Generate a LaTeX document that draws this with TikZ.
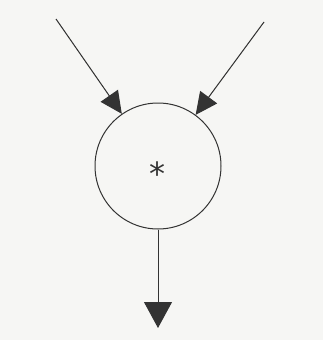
\documentclass[tikz,border=0pt]{standalone}
\usepackage{fontspec}
\setmainfont{DejaVu Sans}
\usetikzlibrary{arrows.meta}
\definecolor{bg}{HTML}{F6F6F4}
\definecolor{ink}{HTML}{333333}
\begin{document}
\begin{tikzpicture}[x=1pt,y=-1pt,
  link/.style={draw=ink,line width=1pt},
  smalltip/.style={-{Triangle[length=22pt,width=21pt]}},
  bigtip/.style={-{Triangle[length=26pt,width=28pt]}},
  op/.style={circle,draw=ink,line width=1pt,minimum size=126pt,inner sep=0pt}]
\fill[bg] (0,0) rectangle (323,340);
\useasboundingbox (0,0) rectangle (323,340);
\node[op] (c) at (158,166) {};
\node[text=ink,font=\fontsize{32pt}{32pt}\selectfont,inner sep=0pt] (star) at (157,174) {*};
\coordinate (a) at (56,19);
\coordinate (b) at (264,22);
\coordinate (o) at (158,328);
\draw[link,smalltip,fill=ink] (a) -- (c);
\draw[link,smalltip,fill=ink] (b) -- (c);
\draw[link,bigtip,fill=ink] (c.south) -- (o);
\end{tikzpicture}
\end{document}
